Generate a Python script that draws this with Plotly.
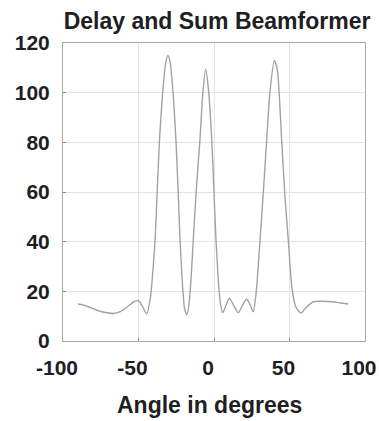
import plotly.graph_objects as go

# Angle (degrees) and beamformer output
angle_deg = [
    -90, -85, -80, -75, -70, -66.7, -62, -57, -53, -50, -47.5, -44.6,
    -42, -40, -39, -37.5, -36, -34, -32, -30.5, -29, -27, -25.2, -24, -22.5,
    -21, -19.5, -18,
    -16.5, -15, -13.7, -11.5, -9.3, -7.5, -5.5, -3.5, -1.5, 0, 1.3, 2.9, 4.3, 5.8,
    8, 10.1, 12.5, 16.1, 19, 21.6, 24, 26,
    28, 30.5, 33, 34.9, 37, 40, 42, 44.8, 47, 49.2, 51.5, 54, 57.5,
    61, 65.8, 72, 78, 84, 89,
]
power = [
    14.9, 14.2, 13.0, 11.9, 11.3, 11.1, 11.8, 14.0, 15.8, 16.2, 14.0, 10.9,
    18, 32, 41, 62, 82, 100, 112, 115, 112, 99, 81, 64, 41,
    24, 13, 10.5,
    15, 27, 41, 63, 81, 99, 109.5, 100, 81, 60, 41, 24, 15, 11.4,
    14.5, 17.2, 15, 11.4, 14.5, 16.8, 14.5, 11.8,
    20, 40.7, 63, 81, 100, 113, 109, 81, 58, 40.7, 22, 14, 11.2,
    13.5, 15.8, 16.0, 15.8, 15.3, 14.9,
]

x_ticks = [-100, -50, 0, 50, 100]
x_tick_text = ["-100", "-50", "0", "50", "100"]
y_ticks = [0, 20, 40, 60, 80, 100, 120]

title_text = "Delay and Sum Beamformer"
x_label = "Angle in degrees"

FONT = "Liberation Sans, Arial, sans-serif"
TXT = "#1e1e24"

fig = go.Figure()
fig.add_trace(go.Scatter(
    x=angle_deg, y=power, mode="lines",
    line=dict(color="#a2a2a6", width=1.4, shape="spline", smoothing=0.6),
    showlegend=False, hoverinfo="skip",
))

axis_common = dict(
    showgrid=True, gridcolor="#e3e3e3", gridwidth=1,
    showline=True, linecolor="#a8a8a8", linewidth=1, mirror=True,
    ticks="inside", ticklen=3, tickcolor="#8a8a8a",
    zeroline=False, automargin=False,
    tickfont=dict(family=FONT, size=21, color=TXT, weight="bold"),
)

fig.update_layout(
    width=379, height=421,
    margin=dict(l=63, r=14, t=43, b=80, autoexpand=False),
    paper_bgcolor="white", plot_bgcolor="white",
    title=dict(
        text=title_text, x=0.51, xref="paper", xanchor="center",
        y=1 - 21 / 421, yref="container", yanchor="middle",
        font=dict(family=FONT, size=23, color=TXT, weight="bold"),
    ),
    xaxis=dict(range=[-100, 100], tickvals=x_ticks, ticktext=x_tick_text,
               ticklabelstandoff=8, ticklabelshift=-6, ticklabeloverflow="allow",
               **axis_common),
    yaxis=dict(range=[0, 120], tickvals=y_ticks, ticklabelstandoff=8, **axis_common),
    annotations=[dict(
        text=x_label, xref="paper", yref="paper", x=0.485, y=-0.215,
        xanchor="center", yanchor="middle", showarrow=False,
        font=dict(family=FONT, size=23, color=TXT, weight="bold"),
    )],
)

fig.write_html("out.html")
